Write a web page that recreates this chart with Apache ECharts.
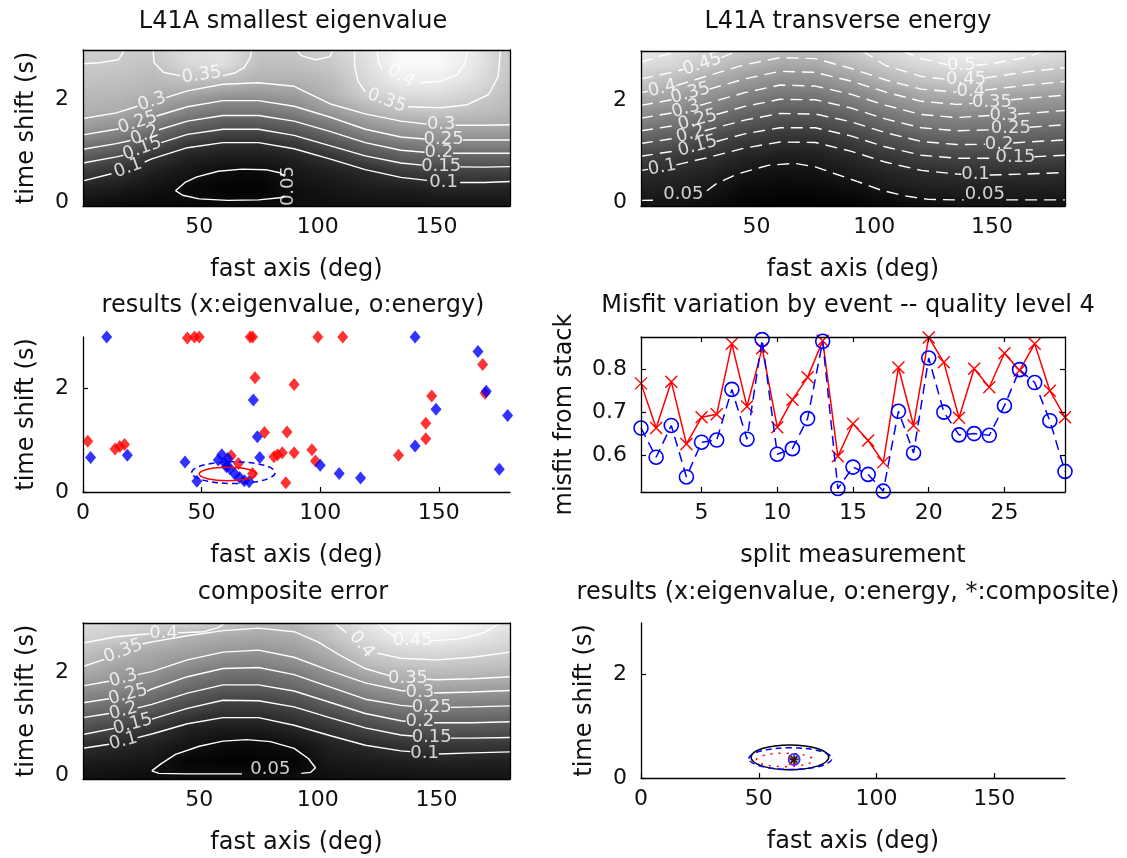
<!DOCTYPE html>
<html>
<head>
<meta charset="utf-8">
<title>L41A splitting diagnostics</title>
<script src="https://cdn.jsdelivr.net/npm/echarts@6.0.0/dist/echarts.min.js"></script>
<style>
  html, body { margin: 0; padding: 0; background: #fff; }
  #chart { width: 1127px; height: 858px; }
</style>
</head>
<body>
<div id="chart"></div>
<script>
// ---------------------------------------------------------------------------
// Grid-search surfaces: values sampled on fast axis (deg) x time shift (s).
// Each inner array is one fast-axis column, listed from 0 s upward.
// ---------------------------------------------------------------------------
const fastAxisCols = [0, 15, 30, 45, 60, 75, 90, 105, 120, 135, 150, 165, 180];
const shiftRows = [0, 0.3, 0.6, 0.9, 1.2, 1.5, 1.8, 2.1, 2.4, 2.7, 3.0];

const eigenCols = [
  [0.060, 0.085, 0.127, 0.176, 0.231, 0.280, 0.308, 0.322, 0.336, 0.350, 0.355],
  [0.050, 0.075, 0.105, 0.154, 0.211, 0.262, 0.303, 0.318, 0.332, 0.346, 0.355],
  [0.045, 0.060, 0.080, 0.112, 0.169, 0.225, 0.275, 0.307, 0.322, 0.336, 0.350],
  [0.048, 0.045, 0.065, 0.085, 0.127, 0.185, 0.239, 0.289, 0.337, 0.370, 0.380],
  [0.045, 0.035, 0.050, 0.075, 0.108, 0.165, 0.220, 0.269, 0.330, 0.380, 0.390],
  [0.048, 0.035, 0.048, 0.075, 0.108, 0.165, 0.220, 0.267, 0.310, 0.330, 0.345],
  [0.050, 0.055, 0.068, 0.085, 0.130, 0.186, 0.238, 0.280, 0.310, 0.330, 0.350],
  [0.055, 0.065, 0.080, 0.112, 0.168, 0.221, 0.277, 0.310, 0.326, 0.343, 0.360],
  [0.060, 0.075, 0.095, 0.150, 0.208, 0.263, 0.312, 0.355, 0.370, 0.380, 0.390],
  [0.060, 0.080, 0.122, 0.178, 0.235, 0.287, 0.338, 0.375, 0.405, 0.420, 0.425],
  [0.065, 0.090, 0.133, 0.188, 0.246, 0.298, 0.345, 0.377, 0.405, 0.420, 0.425],
  [0.065, 0.092, 0.136, 0.190, 0.248, 0.300, 0.333, 0.360, 0.385, 0.395, 0.400],
  [0.065, 0.090, 0.135, 0.190, 0.248, 0.298, 0.320, 0.330, 0.340, 0.345, 0.345]
];

const energyCols = [
  [0.048, 0.073, 0.098, 0.150, 0.210, 0.270, 0.330, 0.390, 0.446, 0.493, 0.530],
  [0.047, 0.069, 0.091, 0.132, 0.190, 0.250, 0.308, 0.365, 0.421, 0.476, 0.510],
  [0.030, 0.054, 0.078, 0.104, 0.159, 0.215, 0.272, 0.328, 0.383, 0.436, 0.480],
  [0.012, 0.025, 0.050, 0.083, 0.125, 0.180, 0.235, 0.290, 0.346, 0.400, 0.452],
  [0.005, 0.020, 0.040, 0.068, 0.104, 0.157, 0.211, 0.264, 0.318, 0.374, 0.430],
  [0.005, 0.022, 0.043, 0.072, 0.105, 0.157, 0.213, 0.267, 0.321, 0.378, 0.430],
  [0.010, 0.033, 0.064, 0.091, 0.133, 0.186, 0.241, 0.296, 0.354, 0.413, 0.460],
  [0.020, 0.058, 0.084, 0.120, 0.171, 0.226, 0.282, 0.338, 0.400, 0.453, 0.500],
  [0.035, 0.071, 0.098, 0.147, 0.202, 0.258, 0.315, 0.375, 0.436, 0.483, 0.520],
  [0.045, 0.075, 0.108, 0.157, 0.213, 0.269, 0.327, 0.388, 0.450, 0.502, 0.545],
  [0.045, 0.077, 0.111, 0.157, 0.211, 0.264, 0.319, 0.376, 0.437, 0.496, 0.540],
  [0.045, 0.076, 0.108, 0.153, 0.203, 0.255, 0.309, 0.362, 0.419, 0.474, 0.515],
  [0.045, 0.074, 0.103, 0.149, 0.197, 0.247, 0.300, 0.350, 0.406, 0.460, 0.505]
];

const compositeCols = [
  [0.060, 0.080, 0.115, 0.167, 0.214, 0.264, 0.308, 0.349, 0.380, 0.410, 0.430],
  [0.055, 0.075, 0.098, 0.147, 0.197, 0.247, 0.291, 0.323, 0.352, 0.397, 0.420],
  [0.050, 0.065, 0.086, 0.117, 0.169, 0.220, 0.268, 0.307, 0.333, 0.375, 0.410],
  [0.045, 0.035, 0.063, 0.083, 0.133, 0.183, 0.230, 0.277, 0.318, 0.348, 0.420],
  [0.045, 0.030, 0.045, 0.075, 0.112, 0.157, 0.206, 0.253, 0.300, 0.335, 0.400],
  [0.045, 0.030, 0.045, 0.075, 0.112, 0.158, 0.206, 0.250, 0.294, 0.330, 0.365],
  [0.047, 0.035, 0.058, 0.093, 0.132, 0.177, 0.225, 0.270, 0.310, 0.340, 0.370],
  [0.055, 0.070, 0.088, 0.118, 0.163, 0.213, 0.263, 0.307, 0.344, 0.378, 0.405],
  [0.060, 0.077, 0.103, 0.147, 0.200, 0.253, 0.300, 0.353, 0.393, 0.425, 0.450],
  [0.060, 0.085, 0.121, 0.171, 0.223, 0.274, 0.330, 0.376, 0.415, 0.454, 0.480],
  [0.065, 0.090, 0.130, 0.179, 0.230, 0.282, 0.338, 0.381, 0.420, 0.460, 0.490],
  [0.065, 0.088, 0.130, 0.180, 0.229, 0.279, 0.335, 0.376, 0.412, 0.448, 0.470],
  [0.065, 0.087, 0.127, 0.176, 0.226, 0.275, 0.327, 0.369, 0.400, 0.425, 0.450]
];

// ---------------------------------------------------------------------------
// Contour traces [fast axis, time shift]; null marks a break where a level
// label sits on the line.
// ---------------------------------------------------------------------------
const eigenContours = [
  ['0.05', [[40,0.22],[44,0.38],[49,0.49],[58,0.60],[68,0.64],[78,0.63],[84,0.57],[86,0.50],null,[86,0.12],[84,0.08],[75,0.04],[62,0.03],[50,0.06],[43,0.13],[40,0.22]]],
  ['0.1',  [[1,0.41],[13,0.55],null,[27,0.78],[30,0.84],[45,1.06],[60,1.16],[75,1.16],[90,1.04],[105,0.84],[120,0.63],[135,0.48],[146,0.42],null,[160,0.38],[170,0.38],[181,0.40]]],
  ['0.15', [[1,0.76],[15,0.88],[18,0.91],null,[34,1.16],[45,1.32],[60,1.42],[75,1.42],[90,1.30],[105,1.10],[120,0.90],[135,0.76],[144,0.72],null,[160,0.685],[170,0.68],[181,0.69]]],
  ['0.2',  [[1,1.03],[15,1.14],[21,1.20],null,[33,1.41],[45,1.58],[60,1.69],[75,1.69],[90,1.58],[105,1.38],[120,1.16],[135,1.01],[145,0.97],null,[157,0.95],[170,0.95],[181,0.95]]],
  ['0.25', [[1,1.31],[15,1.42],[16,1.43],null,[32,1.68],[45,1.86],[60,1.98],[75,1.98],[90,1.87],[105,1.66],[120,1.42],[135,1.27],[145,1.23],null,[161,1.21],[170,1.21],[181,1.21]]],
  ['0.3',  [[1,1.63],[15,1.74],[24,1.87],null,[36,2.04],[45,2.17],[60,2.30],[75,2.33],[90,2.26],[105,1.92],[120,1.72],[135,1.58],[146,1.52],null,[158,1.50],[170,1.50],[181,1.51]]],
  ['0.35', [[1,2.70],[8,2.72],[16,2.78],[18.5,2.97]]],
  ['0.35', [[30.5,2.97],[31,2.72],[35,2.53],[42,2.47],null,[60,2.47],[65,2.52],[69,2.63],[71.5,2.82],[72,2.97]]],
  ['0.35', [[91,2.97],[93,2.86],[99,2.78],[105,2.84],[106.5,2.97]]],
  ['0.35', [[115.5,2.97],[115.5,2.65],[117,2.35],[120,2.15],null,[138,1.86],[152,1.84],[163,1.90],[172,2.10],[176,2.45],[177,2.97]]],
  ['0.4',  [[125,2.97],[125.5,2.75],[127,2.60],null,[143,2.33],[152,2.36],[159,2.50],[162,2.70],[163,2.97]]]
];

const energyContours = [
  ['0.05', [[1,0.03],[9,0.035],null,[29,0.22],[33,0.36],[42,0.55],[55,0.72],[66,0.76],[75,0.69],[83,0.56],[93,0.40],[103,0.23],[113,0.12],[123,0.05],[135,0.04],[138,0.04],null,[156,0.04],[165,0.04],[181,0.04]]],
  ['0.1',  [[1,0.62],[4,0.64],null,[16,0.73],[30,0.88],[45,1.06],[60,1.18],[75,1.17],[90,1.00],[105,0.78],[120,0.62],[135,0.55],[137,0.545],null,[149,0.53],[165,0.55],[181,0.58]]],
  ['0.15', [[1,0.90],[15,1.00],[17,1.02],null,[33,1.19],[45,1.34],[60,1.46],[75,1.46],[90,1.30],[105,1.08],[120,0.92],[135,0.86],[150,0.86],[152,0.86],null,[168,0.89],[181,0.92]]],
  ['0.2',  [[1,1.15],[15,1.25],[16,1.26],null,[28,1.40],[45,1.61],[60,1.74],[75,1.73],[90,1.58],[105,1.36],[120,1.19],[135,1.13],[147,1.135],null,[159,1.16],[165,1.18],[181,1.22]]],
  ['0.25', [[1,1.40],[15,1.50],[17,1.52],null,[33,1.72],[45,1.88],[60,2.02],[75,2.01],[90,1.85],[105,1.63],[120,1.46],[135,1.40],[150,1.42],null,[166,1.47],[181,1.52]]],
  ['0.3',  [[1,1.65],[14,1.75],null,[26,1.90],[45,2.15],[60,2.30],[75,2.28],[90,2.12],[105,1.90],[120,1.72],[135,1.66],[149,1.70],null,[161,1.73],[181,1.80]]],
  ['0.35', [[1,1.90],[14,2.01],null,[30,2.22],[45,2.42],[60,2.57],[75,2.55],[90,2.38],[105,2.16],[120,1.98],[135,1.92],[142,1.94],null,[158,2.01],[165,2.04],[181,2.10]]],
  ['0.4',  [[1,2.15],[4,2.18],null,[16,2.29],[30,2.49],[45,2.70],[60,2.84],[75,2.82],[90,2.63],[105,2.40],[120,2.22],[135,2.16],null,[147,2.20],[165,2.30],[181,2.37]]],
  ['0.45', [[1,2.42],[15,2.56],[19,2.61],null,[35,2.84],[42,2.97]]],
  ['0.45', [[95,2.97],[105,2.68],[120,2.47],[131,2.41],null,[147,2.44],[150,2.46],[165,2.56],[181,2.64]]],
  ['0.5',  [[1,2.75],[10,2.88],[17,2.97]]],
  ['0.5',  [[112,2.97],[120,2.82],[131,2.70],null,[143,2.69],[150,2.72],[165,2.85],[172,2.97]]]
];

const compositeContours = [
  ['0.05', [[30,0.08],[34,0.22],[40,0.40],[50,0.56],[60,0.66],[70,0.69],[80,0.65],[90,0.52],[96,0.32],[99,0.14],[97,0.05],[93,0.03],null,[68,0.02],[45,0.02],[33,0.03],[30,0.08]]],
  ['0.1',  [[1,0.52],[12,0.60],null,[24,0.73],[30,0.80],[45,1.00],[60,1.12],[75,1.12],[90,0.97],[105,0.77],[120,0.58],[135,0.47],[139,0.455],null,[151,0.41],[165,0.43],[181,0.45]]],
  ['0.15', [[1,0.79],[14,0.91],null,[30,1.09],[45,1.30],[60,1.46],[75,1.45],[90,1.33],[105,1.12],[120,0.92],[135,0.78],[140,0.76],null,[156,0.72],[165,0.72],[181,0.73]]],
  ['0.2',  [[1,1.12],[12,1.20],null,[24,1.31],[30,1.38],[45,1.60],[60,1.76],[75,1.76],[90,1.64],[105,1.42],[120,1.20],[135,1.06],[137,1.05],null,[149,1.02],[165,1.02],[181,1.04]]],
  ['0.25', [[1,1.41],[12,1.49],null,[28,1.64],[30,1.68],[45,1.92],[60,2.08],[75,2.10],[90,1.96],[105,1.72],[120,1.48],[135,1.36],[140,1.34],null,[156,1.32],[165,1.33],[181,1.35]]],
  ['0.3',  [[1,1.74],[12,1.83],null,[24,1.96],[30,2.02],[45,2.25],[60,2.40],[75,2.44],[90,2.30],[105,2.04],[120,1.80],[135,1.65],[137,1.64],null,[149,1.60],[165,1.62],[181,1.65]]],
  ['0.35', [[1,2.12],[10,2.26],null,[26,2.56],[30,2.60],[45,2.72],[60,2.82],[75,2.87],[90,2.80],[100,2.60],[110,2.32],[120,2.08],[130,1.94],null,[146,1.87],[150,1.86],[165,1.88],[181,1.92]]],
  ['0.4',  [[1,2.58],[15,2.70],[29,2.76],null,[41,2.78],[52,2.80],[58,2.88],[61,2.97]]],
  ['0.4',  [[107,2.97],[112,2.78],null,[125,2.38],[135,2.28],[150,2.25],[165,2.30],[181,2.40]]],
  ['0.45', [[125,2.97],[130,2.78],[133,2.70],null,[147,2.62],[160,2.66],[170,2.78],[177,2.97]]]
];

// Contour level labels: [text, fast axis, time shift, text angle]
const eigenLabels = [
  ['0.05', 87.5, 0.31, 90], ['0.1', 20, 0.66, 20], ['0.15', 26, 1.04, 20], ['0.2', 27, 1.30, 20],
  ['0.25', 24, 1.55, 18], ['0.3', 30, 1.96, 18], ['0.1', 153, 0.39, 0], ['0.15', 152, 0.69, 0],
  ['0.2', 151, 0.96, 0], ['0.25', 153, 1.22, 0], ['0.3', 152, 1.51, 0], ['0.35', 51, 2.48, 8],
  ['0.35', 129, 1.98, -20], ['0.4', 135, 2.46, -30]
];
const energyLabels = [
  ['0.05', 19, 0.15, 0], ['0.1', 10, 0.68, 10], ['0.15', 25, 1.10, 15], ['0.2', 22, 1.33, 15],
  ['0.25', 25, 1.61, 15], ['0.3', 20, 1.83, 15], ['0.35', 22, 2.14, 15], ['0.4', 10, 2.23, 12],
  ['0.45', 27, 2.71, 18], ['0.5', 137, 2.68, 0], ['0.45', 139, 2.41, 0], ['0.4', 141, 2.17, 0],
  ['0.35', 150, 1.96, 0], ['0.3', 155, 1.71, 0], ['0.25', 158, 1.44, 0], ['0.2', 153, 1.14, 0],
  ['0.15', 160, 0.87, 0], ['0.1', 143, 0.54, 0], ['0.05', 147, 0.15, 0]
];
const compositeLabels = [
  ['0.05', 80, 0.10, 0], ['0.1', 18, 0.66, 15], ['0.15', 22, 0.99, 15], ['0.2', 18, 1.25, 15],
  ['0.25', 20, 1.57, 15], ['0.3', 18, 1.89, 15], ['0.35', 18, 2.42, 20], ['0.4', 35, 2.77, 0],
  ['0.1', 145, 0.43, 0], ['0.15', 148, 0.74, 0], ['0.2', 143, 1.04, 0], ['0.25', 148, 1.33, 0],
  ['0.3', 143, 1.62, 0], ['0.35', 138, 1.89, 0], ['0.4', 118.5, 2.55, -50], ['0.45', 140, 2.64, 0]
];

// ---------------------------------------------------------------------------
// Individual split results [fast axis (deg), time shift (s)]
// ---------------------------------------------------------------------------
const eigenResults = [
  [2,0.98],[13.5,0.83],[15.5,0.88],[17.5,0.92],[44,2.98],[47,3.0],[49,3.0],[70.5,3.0],[71.5,3.0],
  [72.5,2.21],[76.5,1.15],[86,1.16],[89,2.08],[80.5,0.68],[82,0.72],[84,0.76],[89,0.76],[85.5,0.18],
  [96.5,0.82],[98,0.60],[99,3.0],[109.5,3.0],[133,0.71],[144.5,1.03],[144.5,1.33],[147,1.86],
  [168.5,2.47],[169.5,1.91],[62.5,0.70],[71.5,0.36],[65.5,0.55]
];
const energyResults = [
  [10,3.0],[3.2,0.67],[18.7,0.71],[43,0.58],[48,0.21],[57,0.62],[58.5,0.72],[60,0.55],[61,0.65],
  [62,0.45],[64,0.35],[66,0.28],[68,0.22],[70,0.20],[60.5,0.49],[71.8,1.78],[73.5,1.07],[74.5,0.67],
  [100,0.52],[108,0.36],[117,0.27],[140,3.0],[140,0.89],[148.8,1.60],[166.5,2.72],[170,1.95],
  [179,1.48],[175.5,0.44]
];

// Confidence ellipses [centre fast axis, centre shift, half-width deg, half-height s]
const eigenEllipse = [61, 0.35, 12, 0.13];
const energyEllipse = [63.4, 0.375, 17.6, 0.21];
const compositeEllipse = [63.2, 0.40, 16.5, 0.24];

// Best stacked estimates
const bestEigen = [64.5, 0.33];
const bestEnergy = [65, 0.36];
const bestComposite = [65, 0.36];

// ---------------------------------------------------------------------------
// Misfit from stack per split measurement
// ---------------------------------------------------------------------------
const measureIdx = [1,2,3,4,5,6,7,8,9,10,11,12,13,14,15,16,17,18,19,20,21,22,23,24,25,26,27,28,29];
const eigenMisfit = [0.768,0.664,0.772,0.627,0.689,0.696,0.860,0.714,0.850,0.666,0.730,0.782,0.867,0.598,
  0.674,0.635,0.584,0.805,0.670,0.875,0.817,0.688,0.802,0.759,0.838,0.798,0.860,0.751,0.689];
const energyMisfit = [0.664,0.596,0.670,0.550,0.631,0.636,0.754,0.638,0.870,0.603,0.616,0.686,0.866,0.523,
  0.573,0.556,0.517,0.703,0.606,0.827,0.701,0.648,0.651,0.647,0.716,0.800,0.770,0.681,0.563];

const panelTitles = [
  'L41A smallest eigenvalue', 'L41A transverse energy',
  'results (x:eigenvalue, o:energy)', 'Misfit variation by event -- quality level 4',
  'composite error', 'results (x:eigenvalue, o:energy, *:composite)'
];

// ---------------------------------------------------------------------------
const FONT = 'DejaVu Sans';
const INK = '#111';
const X_PATH = 'path://M0,0L10,10M10,0L0,10';
const STAR_PATH = 'path://M5,0L5,10M0,5L10,5M1.5,1.5L8.5,8.5M8.5,1.5L1.5,8.5';

const grids = [
  { left: 83,  top: 50,  width: 427, height: 156 },
  { left: 641, top: 51,  width: 424, height: 155 },
  { left: 83,  top: 337, width: 427, height: 155 },
  { left: 641, top: 337, width: 424, height: 155 },
  { left: 83,  top: 623, width: 427, height: 156 },
  { left: 641, top: 623, width: 424, height: 155 }
];

const xAxes = [], yAxes = [];
function axisLine() { return { show: true, onZero: false, lineStyle: { color: '#000', width: 1.3 } }; }
function tickStyle(show, vals) {
  return { show: show, inside: true, length: 5, customValues: vals, lineStyle: { color: '#000', width: 1.2 } };
}
function makeAxes(k, s) {
  const xi = xAxes.length, yi = yAxes.length;
  xAxes.push({
    gridIndex: k, type: 'value', position: 'bottom', min: s.x[0], max: s.x[1], z: 10,
    axisLine: axisLine(), axisTick: tickStyle(s.ticks, s.xTicks), splitLine: { show: false },
    axisLabel: { customValues: s.xTicks, margin: 10, fontFamily: FONT, fontSize: 22, color: INK },
    name: s.xName, nameLocation: 'middle', nameGap: 52,
    nameTextStyle: { fontFamily: FONT, fontSize: 24, color: INK }
  });
  const yLab = { customValues: s.yTicks, margin: 14, fontFamily: FONT, fontSize: 22, color: INK };
  if (s.yFmt) yLab.formatter = s.yFmt;
  yAxes.push({
    gridIndex: k, type: 'value', position: 'left', min: s.y[0], max: s.y[1], z: 10,
    axisLine: axisLine(), axisTick: tickStyle(s.ticks, s.yTicks), splitLine: { show: false },
    axisLabel: yLab,
    name: s.yName || '', nameLocation: 'middle', nameGap: s.yGap || 44,
    nameTextStyle: { fontFamily: FONT, fontSize: 24, color: INK }
  });
  if (s.box) {
    xAxes.push({
      gridIndex: k, type: 'value', position: 'top', min: s.x[0], max: s.x[1], z: 10,
      axisLine: axisLine(), axisTick: tickStyle(s.ticks, s.xTicks), axisLabel: { show: false },
      splitLine: { show: false }
    });
    yAxes.push({
      gridIndex: k, type: 'value', position: 'right', min: s.y[0], max: s.y[1], z: 10,
      axisLine: axisLine(), axisTick: tickStyle(s.ticks, s.yTicks), axisLabel: { show: false },
      splitLine: { show: false }
    });
  }
  return { xi: xi, yi: yi };
}

const surfaceSpec = (k, yName) => makeAxes(k, {
  x: [1, 181], y: [-0.08, 2.97], xTicks: [50, 100, 150], yTicks: [0, 2],
  xName: 'fast axis (deg)', yName: yName, box: true, ticks: false
});
const ax1 = surfaceSpec(0, 'time shift (s)');
const ax2 = surfaceSpec(1, '');
const ax3 = makeAxes(2, {
  x: [0, 180], y: [0, 3], xTicks: [0, 50, 100, 150], yTicks: [0, 2],
  xName: 'fast axis (deg)', yName: 'time shift (s)', box: false, ticks: true
});
const ax4 = makeAxes(3, {
  x: [1, 29], y: [0.515, 0.876], xTicks: [5, 10, 15, 20, 25], yTicks: [0.6, 0.7, 0.8],
  xName: 'split measurement', yName: 'misfit from stack', yGap: 64, box: true, ticks: true,
  yFmt: v => v.toFixed(1)
});
const ax5 = surfaceSpec(4, 'time shift (s)');
const ax6 = makeAxes(5, {
  x: [0, 180], y: [0, 3], xTicks: [0, 50, 100, 150], yTicks: [0, 2],
  xName: 'fast axis (deg)', yName: 'time shift (s)', box: false, ticks: true
});

// Grey shading of a sampled surface: one canvas pixel per sample, smoothed
// when the image is stretched over the cell extents.
function shadeCanvas(cols, lo, hi) {
  const nx = cols.length, ny = cols[0].length;
  const cv = document.createElement('canvas');
  cv.width = nx; cv.height = ny;
  const ctx = cv.getContext('2d');
  const img = ctx.createImageData(nx, ny);
  for (let i = 0; i < nx; i++) {
    for (let j = 0; j < ny; j++) {
      const t = Math.max(0, Math.min(1, (cols[i][j] - lo) / (hi - lo)));
      const g = Math.round(t * 255);
      const o = ((ny - 1 - j) * nx + i) * 4;
      img.data[o] = g; img.data[o + 1] = g; img.data[o + 2] = g; img.data[o + 3] = 255;
    }
  }
  ctx.putImageData(img, 0, 0);
  return cv;
}

function shadeSeries(cols, lo, hi, ax) {
  const cv = shadeCanvas(cols, lo, hi);
  const dx = fastAxisCols[1] - fastAxisCols[0];
  const dy = shiftRows[1] - shiftRows[0];
  const cells = [];
  fastAxisCols.forEach((x, i) => shiftRows.forEach((y, j) => cells.push([x, y, cols[i][j]])));
  return {
    type: 'custom', xAxisIndex: ax.xi, yAxisIndex: ax.yi, clip: true, silent: true, z: 1,
    data: cells, encode: { x: 0, y: 1 },
    renderItem: function (params, api) {
      if (params.dataIndex !== 0) return null;
      const a = api.coord([fastAxisCols[0] - dx / 2, shiftRows[shiftRows.length - 1] + dy / 2]);
      const b = api.coord([fastAxisCols[fastAxisCols.length - 1] + dx / 2, shiftRows[0] - dy / 2]);
      return {
        type: 'image',
        style: { image: cv, x: a[0], y: a[1], width: b[0] - a[0], height: b[1] - a[1] }
      };
    }
  };
}

function contourSeries(list, ax, dashed) {
  const out = [];
  list.forEach(function (c) {
    let seg = [];
    const flush = function () {
      if (seg.length > 1) {
        out.push({
          type: 'line', xAxisIndex: ax.xi, yAxisIndex: ax.yi, data: seg,
          symbol: 'none', showSymbol: false, silent: true, z: 3,
          lineStyle: { color: '#fff', width: 1.4, type: dashed ? [12, 7] : 'solid' }
        });
      }
      seg = [];
    };
    c[1].forEach(function (p) { if (p === null) flush(); else seg.push(p); });
    flush();
  });
  return out;
}

function labelSeries(list, ax) {
  return {
    type: 'scatter', xAxisIndex: ax.xi, yAxisIndex: ax.yi, silent: true, z: 4,
    symbolSize: 1, itemStyle: { color: 'rgba(0,0,0,0)' },
    data: list.map(l => ({ name: l[0], value: [l[1], l[2]], label: { rotate: l[3] } })),
    label: { show: true, position: 'inside', formatter: '{b}', color: '#fff', fontFamily: FONT, fontSize: 18 }
  };
}

function ellipseSeries(e, ax, color, dash, z) {
  return {
    type: 'custom', xAxisIndex: ax.xi, yAxisIndex: ax.yi, clip: false, silent: true, z: z,
    data: [e], encode: { x: 0, y: 1 },
    renderItem: function (params, api) {
      const c = api.coord([api.value(0), api.value(1)]);
      const s = api.size([api.value(2), api.value(3)]);
      return {
        type: 'ellipse',
        shape: { cx: c[0], cy: c[1], rx: s[0], ry: s[1] },
        style: { fill: 'none', stroke: color, lineWidth: 1.5, lineDash: dash || null }
      };
    }
  };
}

function markerSeries(data, ax, symbol, size, color, filled, z) {
  return {
    type: 'scatter', xAxisIndex: ax.xi, yAxisIndex: ax.yi, data: data, clip: false, silent: true, z: z,
    symbol: symbol, symbolSize: size,
    itemStyle: filled ? { color: color } : { color: 'rgba(0,0,0,0)', borderColor: color, borderWidth: 1.8 }
  };
}

const series = [].concat(
  [shadeSeries(eigenCols, 0.03, 0.43, ax1)],
  contourSeries(eigenContours, ax1, false),
  [labelSeries(eigenLabels, ax1)],

  [shadeSeries(energyCols, 0.0, 0.57, ax2)],
  contourSeries(energyContours, ax2, true),
  [labelSeries(energyLabels, ax2)],

  [
    markerSeries(eigenResults, ax3, 'diamond', [11, 13], '#ff0000', true, 2),
    markerSeries(energyResults, ax3, 'diamond', [11, 13], '#0000ff', true, 3),
    ellipseSeries(eigenEllipse, ax3, '#ff0000', null, 4),
    ellipseSeries(energyEllipse, ax3, '#0000ff', [6, 4], 4)
  ],

  [
    {
      type: 'line', xAxisIndex: ax4.xi, yAxisIndex: ax4.yi, clip: false, silent: true, z: 3,
      data: measureIdx.map((x, i) => [x, eigenMisfit[i]]),
      symbol: X_PATH, symbolSize: 12, showSymbol: true,
      itemStyle: { color: 'rgba(0,0,0,0)', borderColor: '#ff0000', borderWidth: 1.4 },
      lineStyle: { color: '#ff0000', width: 1.5 }
    },
    {
      type: 'line', xAxisIndex: ax4.xi, yAxisIndex: ax4.yi, clip: false, silent: true, z: 4,
      data: measureIdx.map((x, i) => [x, energyMisfit[i]]),
      symbol: 'circle', symbolSize: 14, showSymbol: true,
      itemStyle: { color: 'rgba(0,0,0,0)', borderColor: '#0000ff', borderWidth: 1.6 },
      lineStyle: { color: '#0000ff', width: 1.5, type: [10, 6] }
    }
  ],

  [shadeSeries(compositeCols, 0.025, 0.49, ax5)],
  contourSeries(compositeContours, ax5, false),
  [labelSeries(compositeLabels, ax5)],

  [
    ellipseSeries(compositeEllipse, ax6, '#000000', null, 2),
    ellipseSeries(energyEllipse, ax6, '#0000ff', [6, 4], 3),
    ellipseSeries(eigenEllipse, ax6, '#ff0000', [2, 6], 3),
    markerSeries([bestEnergy], ax6, 'circle', 11, '#0000ff', false, 4),
    markerSeries([bestEigen], ax6, X_PATH, 8, '#ff0000', false, 5),
    markerSeries([bestComposite], ax6, STAR_PATH, 9, '#000000', false, 6)
  ]
);

const titleX = [293, 848, 293, 848, 293, 848];
const titleY = [22, 22, 306, 306, 593, 593];

const chart = echarts.init(document.getElementById('chart'), null, { renderer: 'canvas' });
chart.setOption({
  animation: false,
  backgroundColor: '#ffffff',
  textStyle: { fontFamily: FONT },
  grid: grids.map(g => Object.assign({ outerBoundsMode: 'none', containLabel: false }, g)),
  xAxis: xAxes,
  yAxis: yAxes,
  series: series,
  graphic: panelTitles.map((t, i) => ({
    type: 'text', x: titleX[i], y: titleY[i], silent: true,
    style: {
      text: t, fill: INK, font: '24px "DejaVu Sans"',
      align: 'center', verticalAlign: 'middle', textAlign: 'center', textVerticalAlign: 'middle'
    }
  }))
});
</script>
</body>
</html>
